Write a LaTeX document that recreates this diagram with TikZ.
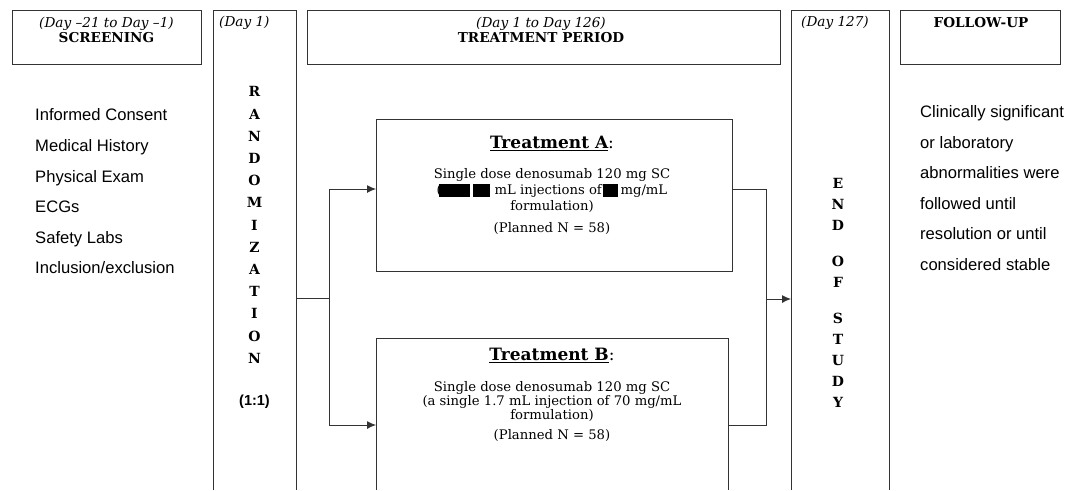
\documentclass[tikz,border=0pt]{standalone}
\usepackage{fontspec}
\setmainfont{DejaVu Serif}
\newfontfamily\arialf{Liberation Sans}
\usetikzlibrary{arrows.meta}
\begin{document}
\begin{tikzpicture}[x=1pt,y=-1pt,
  line/.style={draw=black!80, line width=0.9pt},
  box/.style={line, rectangle, inner sep=0pt, outer sep=0pt},
  ghost/.style={draw=none, rectangle, inner sep=0pt, outer sep=0pt},
  arr/.style={line, -{Latex[length=9pt,width=8pt]}},
  hdr/.style={font=\fontsize{13.6}{14.5}\selectfont, align=center, inner sep=0pt},
  letters/.style={font=\bfseries\fontsize{14}{#1}\selectfont, align=center, inner sep=0pt},
  sanslist/.style={font=\arialf\fontsize{16.6}{30.6}\selectfont, align=left, anchor=west, inner sep=0pt},
  body/.style={font=\fontsize{13.2}{#1}\selectfont, align=center, inner sep=0pt},
  ttl/.style={font=\fontsize{17}{19}\selectfont, inner sep=0pt},
]
\useasboundingbox[fill=white] (0,0) rectangle (1070,490);

% Screening header
\node[box, minimum width=189pt, minimum height=54pt] (scr) at (106.5,37) {};
\node[hdr] (scrT) at (106.5,30) {\textit{(Day –21 to Day –1)}\\\textbf{SCREENING}};
\node[sanslist] (scrL) at (35,191.5) {Informed Consent\\Medical History\\Physical Exam\\ECGs\\Safety Labs\\Inclusion/exclusion};

% Randomization column
\node[ghost, minimum width=83pt, minimum height=480pt] (rand) at (254.5,250) {};
\draw[line] (rand.south west) -- (rand.north west) -- (rand.north east) -- (rand.south east);
\node[hdr, anchor=west] (day1) at (219,23) {\textit{(Day 1)}};
\node[letters=22.2] (randT) at (254.5,225) {R\\A\\N\\D\\O\\M\\I\\Z\\A\\T\\I\\O\\N};
\node[font=\arialf\bfseries\fontsize{14.5}{16}\selectfont, inner sep=0pt] (ratio) at (254.5,402) {(1:1)};

% Treatment period header
\node[box, minimum width=473pt, minimum height=54pt] (tp) at (543.5,37) {};
\node[hdr] (tpT) at (541,30) {\textit{(Day 1 to Day 126)}\\\textbf{TREATMENT PERIOD}};

% Treatment A
\node[box, minimum width=356pt, minimum height=152pt] (trtA) at (554,195) {};
\node[ttl] (trtAt) at (552,143) {\textbf{\underline{Treatment A}}:};
\node[body=16] (trtAb) at (552,190.5) {Single dose denosumab 120 mg SC\\(\hspace{-2.5pt}\rule[-3pt]{31pt}{13pt}\hspace{3pt}\rule[-3pt]{17pt}{13pt} mL injections of\hspace{1.5pt}\rule[-3pt]{15pt}{13pt}\,mg/mL\\formulation)};
\node[body=14] (trtAn) at (552,229) {(Planned N = 58)};

% Treatment B
\node[ghost, minimum width=352pt, minimum height=152pt] (trtB) at (552,414) {};
\draw[line] (trtB.south west) -- (trtB.north west) -- (trtB.north east) -- (trtB.south east);
\node[ttl] (trtBt) at (552,355) {\textbf{\underline{Treatment B}}:};
\node[body=14] (trtBb) at (552,402) {Single dose denosumab 120 mg SC\\(a single 1.7 mL injection of 70 mg/mL\\formulation)};
\node[body=14] (trtBn) at (552,436) {(Planned N = 58)};

% End of study column
\node[ghost, minimum width=98pt, minimum height=480pt] (eos) at (840,250) {};
\draw[line] (eos.south west) -- (eos.north west) -- (eos.north east) -- (eos.south east);
\node[hdr] (day127) at (835,23) {\textit{(Day 127)}};
\node[letters=21] (eosT) at (838,292.5) {E\\N\\D\\[15pt]O\\F\\[15pt]S\\T\\U\\D\\Y};

% Follow-up header
\node[box, minimum width=160pt, minimum height=54pt] (fu) at (980,37.5) {};
\node[hdr] (fuT) at (981,23) {\textbf{FOLLOW-UP}};
\node[sanslist] (fuL) at (920,188) {Clinically significant\\or laboratory\\abnormalities were\\followed until\\resolution or until\\considered stable};

% Connectors left
\coordinate (split) at (329,298);
\coordinate (jA) at (329,189);
\coordinate (jB) at (329,425);
\draw[line] (rand.east |- split) -- (split);
\draw[line] (jA) -- (jB);
\draw[arr] (jA) -- (trtA.west |- jA);
\draw[arr] (jB) -- (trtB.west |- jB);

% Connectors right
\coordinate (kA) at (766,189);
\coordinate (kB) at (766,425);
\coordinate (kM) at (766,299);
\draw[line] (trtA.east |- kA) -- (kA) -- (kB) -- (trtB.east |- kB);
\draw[arr] (kM) -- (eos.west |- kM);
\end{tikzpicture}
\end{document}
